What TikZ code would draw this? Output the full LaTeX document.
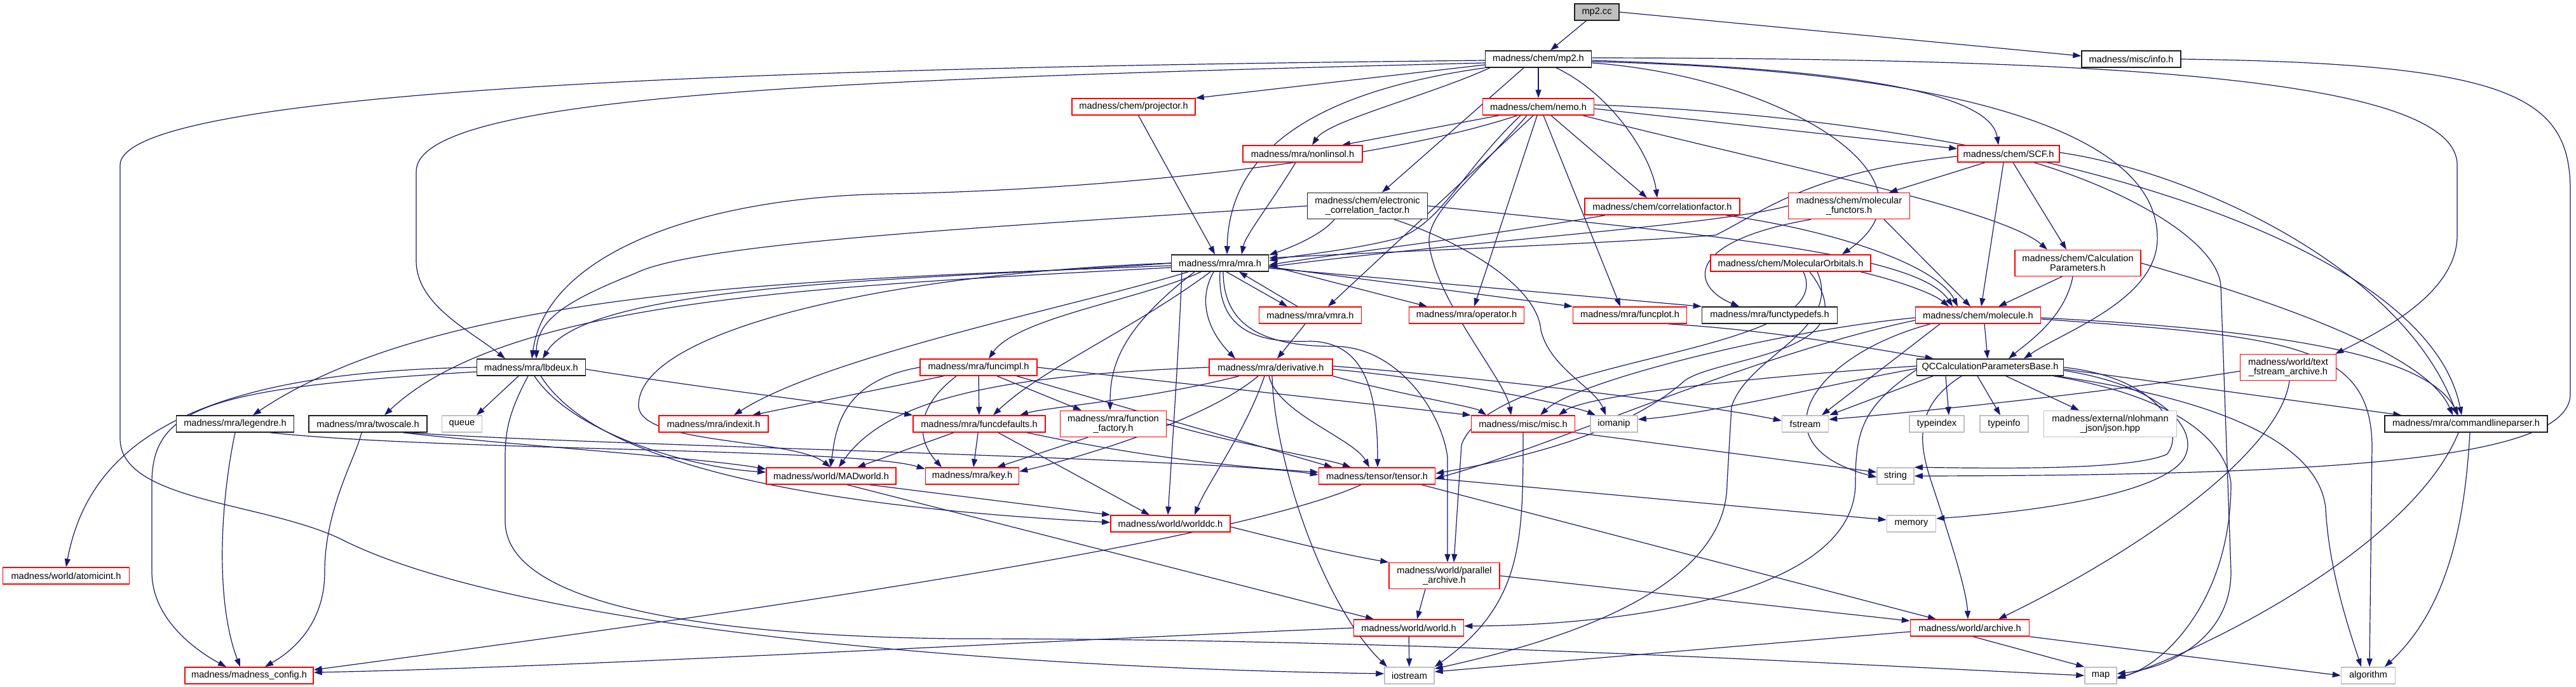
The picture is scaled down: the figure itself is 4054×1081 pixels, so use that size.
\documentclass[tikz,border=0pt]{standalone}
\usepackage{fontspec}
\setmainfont{Liberation Sans}
\usetikzlibrary{arrows.meta,backgrounds}
\definecolor{edgec}{HTML}{191970}
\definecolor{redb}{HTML}{FF0000}
\definecolor{grayb}{HTML}{BFBFBF}
\definecolor{blackb}{HTML}{202020}
\begin{document}
\begin{tikzpicture}[x=1pt,y=-1pt,
  nd/.style={draw, line width=1.5pt, fill=white, inner sep=0pt, align=center,
     font=\fontsize{14.6}{15}\selectfont, minimum height=26pt},
  rd/.style={nd, draw=redb},
  bk/.style={nd, draw=blackb},
  gy/.style={nd, draw=grayb},
  tw/.style={minimum height=41pt},
  ed/.style={draw=edgec, line width=1.2pt, -{Triangle[length=13pt,width=9pt]}}]
\useasboundingbox (0,0) rectangle (4054,1081);
% nodes
\node[bk,fill=grayb,minimum width=70pt] (mpcc) at (2513,19) {mp2.cc};
\node[bk,minimum width=167pt] (mph) at (2421,93) {madness/chem/mp2.h};
\node[bk,minimum width=156pt] (info) at (3354,93) {madness/misc/info.h};
\node[rd,minimum width=175pt] (nemo) at (2421,168) {madness/chem/nemo.h};
\node[rd,minimum width=194pt] (proj) at (1784,168) {madness/chem/projector.h};
\node[rd,minimum width=188pt] (nonlin) at (2050,242) {madness/mra/nonlinsol.h};
\node[rd,minimum width=160pt] (scf) at (3161,242) {madness/chem/SCF.h};
\node[bk,tw,minimum width=189pt] (ecf) at (2152,324) {madness/chem/electronic\\\_correlation\_factor.h};
\node[rd,minimum width=244pt] (corrf) at (2616,325) {madness/chem/correlationfactor.h};
\node[rd,tw,minimum width=191pt] (molfunc) at (2910,324) {madness/chem/molecular\\\_functors.h};
\node[bk,minimum width=153pt] (mra) at (1920,414) {madness/mra/mra.h};
\node[rd,minimum width=252pt] (molorb) at (2818,414) {madness/chem/MolecularOrbitals.h};
\node[rd,tw,minimum width=198pt] (calcp) at (3270,414) {madness/chem/Calculation\\Parameters.h};
\node[rd,minimum width=161pt] (vmra) at (2062,496) {madness/mra/vmra.h};
\node[rd,minimum width=181pt] (oper) at (2308,496) {madness/mra/operator.h};
\node[rd,minimum width=179pt] (fplot) at (2565,496) {madness/mra/funcplot.h};
\node[bk,minimum width=213pt] (ftdefs) at (2785,496) {madness/mra/functypedefs.h};
\node[rd,minimum width=197pt] (molec) at (3113,496) {madness/chem/molecule.h};
\node[bk,minimum width=171pt] (lbdeux) at (836,578) {madness/mra/lbdeux.h};
\node[rd,minimum width=184pt] (fimpl) at (1540,578) {madness/mra/funcimpl.h};
\node[rd,minimum width=194pt] (deriv) at (2000,578) {madness/mra/derivative.h};
\node[bk,minimum width=231pt] (qcc) at (3132,578) {QCCalculationParametersBase.h};
\node[rd,tw,minimum width=151pt] (textfs) at (3601,578) {madness/world/text\\\_fstream\_archive.h};
\node[bk,minimum width=185pt] (legendre) at (370,667) {madness/mra/legendre.h};
\node[bk,minimum width=186pt] (twoscale) at (579,667) {madness/mra/twoscale.h};
\node[gy,minimum width=63pt] (queue) at (727,667) {queue};
\node[rd,minimum width=172pt] (indexit) at (1123,667) {madness/mra/indexit.h};
\node[rd,minimum width=208pt] (fdefs) at (1541,667) {madness/mra/funcdefaults.h};
\node[rd,tw,minimum width=167pt] (ffact) at (1752,667) {madness/mra/function\\\_factory.h};
\node[rd,minimum width=163pt] (misc) at (2397,667) {madness/misc/misc.h};
\node[gy,minimum width=74pt] (iomanip) at (2540,667) {iomanip};
\node[gy,minimum width=73pt] (fstream) at (2841,667) {fstream};
\node[gy,minimum width=86pt] (typeindex) at (3048,667) {typeindex};
\node[gy,minimum width=76pt] (typeinfo) at (3154,667) {typeinfo};
\node[gy,tw,minimum width=209pt] (json) at (3321,667) {madness/external/nlohmann\\\_json/json.hpp};
\node[bk,minimum width=256pt] (cmdline) at (3881,667) {madness/mra/commandlineparser.h};
\node[rd,minimum width=204pt] (madworld) at (1308,749) {madness/world/MADworld.h};
\node[rd,minimum width=147pt] (key) at (1530,749) {madness/mra/key.h};
\node[rd,minimum width=183pt] (tensor) at (2167,749) {madness/tensor/tensor.h};
\node[gy,minimum width=58pt] (string) at (2983,749) {string};
\node[rd,minimum width=188pt] (worlddc) at (1842,824) {madness/world/worlddc.h};
\node[gy,minimum width=77pt] (memory) at (3008,824) {memory};
\node[rd,minimum width=199pt] (atomicint) at (104,906) {madness/world/atomicint.h};
\node[rd,tw,minimum width=174pt] (parallel) at (2273,906) {madness/world/parallel\\\_archive.h};
\node[rd,minimum width=173pt] (world) at (2217,988) {madness/world/world.h};
\node[rd,minimum width=187pt] (archive) at (3100,988) {madness/world/archive.h};
\node[rd,minimum width=202pt] (config) at (392,1063) {madness/madness\_config.h};
\node[gy,minimum width=78pt] (iostream) at (2218,1063) {iostream};
\node[gy,minimum width=50pt] (map) at (3306,1063) {map};
\node[gy,minimum width=85pt] (algorithm) at (3727,1063) {algorithm};
% edges
\begin{scope}[on background layer]
\draw[ed] (mpcc) -- ([xshift=19pt]mph.north);
\draw[ed] (mpcc.east) -- ([yshift=5pt]info.west);
\draw[ed] (info.east) .. controls (3950,100) and (4045,150) .. (4045,300) -- (4045,620) .. controls (4045,720) and (3700,748) .. (string.east);
% mp2.h
\draw[ed] ([yshift=-2pt]mph.west) .. controls (1400,105) and (189,130) .. (189,260) -- (189,690) .. controls (189,790) and (420,790) .. (540,850) .. controls (800,980) and (1500,1050) .. ([yshift=3pt]iostream.west);
\draw[ed] ([yshift=-6pt]mph.west) .. controls (1300,125) and (655,150) .. (655,270) -- (655,410) .. controls (655,480) and (740,520) .. ([xshift=-41pt]lbdeux.north);
\draw[ed] ([yshift=-9pt]mph.west) -- (proj.north east);
\draw[ed] ([xshift=8pt]mph.south west) .. controls (2250,150) and (2090,190) .. ([xshift=15pt]nonlin.north);
\draw[ed] (mph.south west) .. controls (2100,140) and (1935,220) .. ([xshift=11pt]mra.north);
\draw[ed] ([xshift=-23pt]mph.south) -- ([xshift=23pt]ecf.north);
\draw[ed] (mph) -- (nemo);
\draw[ed] ([xshift=28pt]mph.south) .. controls (2540,150) and (2600,250) .. ([xshift=-8pt]corrf.north);
\draw[ed] ([yshift=-2pt]mph.east) .. controls (2800,105) and (3130,130) .. ([xshift=-16pt]scf.north);
\draw[ed] ([yshift=-6pt]mph.east) .. controls (2800,120) and (3070,280) .. ([xshift=81pt]molorb.north);
\draw[ed] ([yshift=-4pt]mph.east) .. controls (3050,110) and (3390,200) .. (3395,370) .. controls (3400,470) and (3250,520) .. ([xshift=53pt]qcc.north);
\draw[ed] ([yshift=2pt]mph.east) .. controls (3300,92) and (3867,120) .. (3867,260) -- (3867,370) .. controls (3867,460) and (3750,520) .. ([xshift=-2pt]textfs.north east);
% nemo
\draw[ed] ([xshift=-62pt]nemo.south) -- ([xshift=62pt]nonlin.north);
\draw[ed] ([xshift=-33pt]nemo.south) .. controls (2150,260) and (1700,300) .. (1400,305) .. controls (1100,310) and (860,400) .. ([xshift=1pt]lbdeux.north);
\draw[ed] ([xshift=-28pt]nemo.south) .. controls (2300,270) and (2270,350) .. (2200,375) .. controls (2120,395) and (2050,400) .. ([yshift=4pt]mra.east);
\draw[ed] ([xshift=-8pt]nemo.south) -- ([xshift=28pt]vmra.north);
\draw[ed] ([xshift=-18pt]nemo.south) .. controls (2300,300) and (2240,340) .. (2250,390) .. controls (2265,480) and (2370,600) .. ([xshift=-19pt]misc.north);
\draw[ed] ([xshift=-2pt]nemo.south) -- ([xshift=12pt]oper.north);
\draw[ed] ([xshift=8pt]nemo.south) -- ([xshift=-15pt]fplot.north);
\draw[ed] ([xshift=20pt]nemo.south) -- ([xshift=-24pt]corrf.north);
\draw[ed] ([yshift=-3pt]nemo.east) -- ([yshift=8pt]scf.west);
\draw[ed] ([xshift=70pt]nemo.south) .. controls (2800,260) and (3150,330) .. ([xshift=-48pt]calcp.north);
\draw[ed] ([yshift=3pt]nemo.east) .. controls (3200,190) and (3820,380) .. ([xshift=-7pt]cmdline.north);
% projector / nonlinsol
\draw[ed] (proj) -- ([xshift=-8pt]mra.north);
\draw[ed] ([xshift=-11pt]nonlin.south) .. controls (2000,320) and (1960,370) .. ([xshift=34pt]mra.north);
% electronic_correlation_factor
\draw[ed] (ecf.west) .. controls (1600,355) and (1100,380) .. (1000,430) .. controls (900,470) and (845,500) .. ([xshift=8pt]lbdeux.north);
\draw[ed] ([xshift=-52pt]ecf.south) .. controls (2080,370) and (2030,390) .. ([yshift=-1pt]mra.north east);
\draw[ed] ([xshift=42pt]ecf.south) .. controls (2300,380) and (2420,450) .. (2425,520) .. controls (2440,580) and (2510,610) .. ([xshift=-13pt]iomanip.north);
\draw[ed] (ecf.east) .. controls (2700,370) and (3020,400) .. ([xshift=-40pt]molec.north);
% correlationfactor
\draw[ed] ([xshift=-90pt]corrf.south) .. controls (2350,370) and (2100,400) .. ([yshift=-3pt]mra.east);
\draw[ed] ([xshift=100pt]corrf.south) .. controls (2900,365) and (3050,420) .. ([xshift=-32pt]molec.north);
% molecular_functors
\draw[ed] (molfunc.west) .. controls (2700,355) and (2300,380) .. ([yshift=-6pt]mra.east);
\draw[ed] ([xshift=-60pt]molfunc.south) .. controls (2650,380) and (2660,450) .. ([xshift=-48pt]ftdefs.north);
\draw[ed] ([xshift=55pt]molfunc.south) -- ([xshift=-12pt]molec.north);
% SCF
\draw[ed] ([xshift=-37pt]scf.south) -- ([xshift=63pt]molfunc.north);
\draw[ed] ([yshift=-4pt]scf.west) .. controls (2850,270) and (2780,330) .. (2700,370) .. controls (2500,385) and (2200,395) .. ([yshift=8pt]mra.east);
\draw[ed] ([xshift=-8pt]scf.south) -- ([xshift=5pt]molec.north);
\draw[ed] ([xshift=7pt]scf.south) -- ([xshift=-18pt]calcp.north);
\draw[ed] ([xshift=40pt]scf.south) .. controls (3350,300) and (3490,380) .. (3495,450) -- (3511,900) .. controls (3511,1000) and (3420,1050) .. ([yshift=3pt]map.east);
\draw[ed] ([yshift=2pt]scf.east) .. controls (3450,270) and (3780,420) .. ([xshift=-14pt]cmdline.north);
% MolecularOrbitals
\draw[ed] ([xshift=110pt]molorb.south) .. controls (2980,440) and (3040,460) .. ([xshift=-46pt]molec.north);
\draw[ed] ([xshift=42pt]molorb.south) .. controls (2900,520) and (2750,560) .. (2725,640) -- (2718,760) .. controls (2718,930) and (2450,1010) .. ([yshift=-3pt]iostream.north east);
\draw[ed] ([xshift=30pt]molorb.south) .. controls (2950,560) and (2700,560) .. (2650,600) .. controls (2560,680) and (2400,720) .. ([yshift=4pt]tensor.east);
\draw[ed] ([xshift=20pt]molorb.south) .. controls (2900,560) and (2350,560) .. (2300,700) -- ([xshift=15pt]parallel.north);
% mra.h
\draw[ed] (mra.west) .. controls (1500,440) and (930,440) .. ([xshift=18pt]lbdeux.north);
\draw[ed] ([yshift=-4pt]mra.west) .. controls (1300,440) and (700,450) .. ([xshift=28pt]legendre.north);
\draw[ed] ([yshift=-7pt]mra.west) .. controls (1300,450) and (800,470) .. ([xshift=26pt]twoscale.north);
\draw[ed] ([xshift=-50pt]mra.south) .. controls (1700,480) and (1300,560) .. ([xshift=32pt]indexit.north);
\draw[ed] ([xshift=-30pt]mra.south) .. controls (1800,470) and (1600,500) .. ([xshift=16pt]fimpl.north);
\draw[ed] ([xshift=-15pt]mra.south) .. controls (1780,520) and (1640,580) .. ([xshift=22pt]fdefs.north);
\draw[ed] ([xshift=-40pt]mra.south) .. controls (1760,520) and (1747,580) .. ([xshift=-5pt]ffact.north);
\draw[ed] ([xshift=-60pt]mra.south) .. controls (1855,550) and (1845,700) .. ([xshift=-4pt]worlddc.north);
\draw[ed] ([xshift=-10pt]mra.south) .. controls (1880,480) and (1910,530) .. ([xshift=-56pt]deriv.north);
\draw[ed] ([xshift=10pt]mra.south) -- ([xshift=-36pt]vmra.north);
\draw[ed] ([xshift=-20pt]vmra.north) -- ([xshift=30pt]mra.south);
\draw[ed] ([yshift=-4pt]mra.east) -- ([xshift=-62pt]oper.north);
\draw[ed] ([yshift=-6pt]mra.east) -- (fplot.north west);
\draw[ed] ([yshift=-8pt]mra.east) -- (ftdefs.north west);
\draw[ed] (mra.south) .. controls (1915,520) and (1980,540) .. (2060,537) .. controls (2150,537) and (2168,620) .. ([xshift=1pt]tensor.north);
\draw[ed] ([xshift=5pt]mra.south) .. controls (1925,520) and (2000,545) .. (2100,545) .. controls (2200,545) and (2270,650) .. (2278,720) -- ([xshift=5pt]parallel.north);
\draw[ed] (mra.west) .. controls (1400,430) and (1000,520) .. (1005,640) .. controls (1010,700) and (1250,690) .. ([xshift=-1pt]madworld.north);
% funcimpl
\draw[ed] (fimpl.west) .. controls (1320,600) and (1315,680) .. ([xshift=-1pt]madworld.north);
\draw[ed] ([xshift=-55pt]fimpl.south) -- ([xshift=61pt]indexit.north);
\draw[ed] ([xshift=-35pt]fimpl.south) .. controls (1430,650) and (1450,700) .. ([xshift=-48pt]key.north);
\draw[ed] (fimpl) -- (fdefs);
\draw[ed] ([xshift=29pt]fimpl.south) -- ([xshift=-50pt]ffact.north);
\draw[ed] ([xshift=60pt]fimpl.south) -- ([xshift=-70pt]tensor.north);
\draw[ed] (fimpl.east) -- (misc.north west);
% funcdefaults
\draw[ed] ([xshift=-40pt]fdefs.south) -- ([xshift=41pt]madworld.north);
\draw[ed] (fdefs) -- ([xshift=2pt]key.north);
\draw[ed] ([xshift=30pt]fdefs.south) -- ([xshift=-33pt]worlddc.north);
\draw[ed] ([xshift=75pt]fdefs.south) .. controls (1800,720) and (1950,735) .. ([yshift=6pt]tensor.west);
% function_factory
\draw[ed] ([xshift=-40pt]ffact.south) -- ([xshift=39pt]key.north);
\draw[ed] (ffact.east) .. controls (1950,700) and (2080,720) .. ([xshift=-41pt]tensor.north);
% derivative
\draw[ed] ([xshift=-50pt]deriv.south) .. controls (1800,630) and (1650,640) .. ([xshift=64pt]fdefs.north);
\draw[ed] ([xshift=-20pt]deriv.south) .. controls (1900,660) and (1700,720) .. ([yshift=7pt]key.east);
\draw[ed] ([xshift=-10pt]deriv.south) .. controls (1960,680) and (1900,760) .. ([xshift=38pt]worlddc.north);
\draw[ed] ([xshift=-3pt]deriv.south) .. controls (2010,650) and (2130,690) .. ([xshift=-12pt]tensor.north);
\draw[ed] (deriv.south east) .. controls (2200,620) and (2320,640) .. ([xshift=-58pt]misc.north);
\draw[ed] ([yshift=-3pt]deriv.east) .. controls (2300,600) and (2480,640) .. ([xshift=-29pt]iomanip.north);
\draw[ed] ([yshift=2pt]deriv.east) .. controls (2400,600) and (2700,640) .. ([yshift=5pt]fstream.west);
\draw[ed] ([xshift=2pt]deriv.south) .. controls (2005,720) and (2080,950) .. ([xshift=-35pt]iostream.north);
\draw[ed] (deriv.west) .. controls (1600,590) and (1400,620) .. ([xshift=12pt]madworld.north);
% lbdeux
\draw[ed] (lbdeux.west) .. controls (300,585) and (140,700) .. (atomicint.north);
\draw[ed] ([yshift=-7pt]lbdeux.west) .. controls (330,610) and (239,640) .. (239,760) -- (239,900) .. controls (239,980) and (320,1030) .. ([xshift=-36pt]config.north);
\draw[ed] ([xshift=-20pt]lbdeux.south) -- ([xshift=23pt]queue.north);
\draw[ed] ([yshift=-3pt]lbdeux.east) .. controls (1100,610) and (1350,640) .. (fdefs.north west);
\draw[ed] ([xshift=-5pt]lbdeux.south) .. controls (800,650) and (795,680) .. (795,720) -- (795,820) .. controls (795,950) and (1100,1000) .. (1500,1005) .. controls (2200,1005) and (2800,1040) .. (map.west);
\draw[ed] ([xshift=5pt]lbdeux.south) .. controls (900,680) and (1080,735) .. ([yshift=6pt]madworld.west);
\draw[ed] ([xshift=15pt]lbdeux.south) .. controls (920,700) and (1150,790) .. ([yshift=2pt]worlddc.west);
% legendre / twoscale
\draw[ed] (legendre.south) .. controls (345,800) and (340,950) .. ([xshift=-14pt]config.north);
\draw[ed] ([xshift=55pt]legendre.south) .. controls (700,710) and (1350,705) .. ([yshift=11pt]key.west);
\draw[ed] ([xshift=-10pt]twoscale.south) .. controls (560,720) and (511,800) .. (511,900) .. controls (511,990) and (450,1030) .. ([xshift=25pt]config.north);
\draw[ed] ([xshift=55pt]twoscale.south) .. controls (800,700) and (1100,720) .. ([yshift=11pt]madworld.west);
\draw[ed] ([xshift=65pt]twoscale.south) .. controls (900,700) and (1900,720) .. ([yshift=2pt]tensor.west);
% lower nodes
\draw[ed] ([xshift=60pt]madworld.south) -- (worlddc.north west);
\draw[ed] ([xshift=25pt]madworld.south) -- ([xshift=-55pt]world.north);
\draw[ed] ([yshift=-5pt]worlddc.east) .. controls (2000,845) and (2100,870) .. (parallel.north west);
\draw[ed] ([xshift=-25pt]tensor.south) .. controls (1950,850) and (1200,960) .. ([yshift=9pt]config.east);
\draw[ed] ([yshift=-4pt]tensor.east) -- ([yshift=6pt]memory.west);
\draw[ed] ([xshift=70pt]tensor.south) -- ([xshift=-53pt]archive.north);
\draw[ed] ([xshift=-30pt]parallel.south) -- ([xshift=13pt]world.north);
\draw[ed] (parallel.east) -- ([yshift=11pt]archive.west);
\draw[ed] (world.west) .. controls (1600,1010) and (900,1050) .. ([yshift=5pt]config.east);
\draw[ed] (world) -- (iostream);
\draw[ed] ([yshift=-6pt]archive.west) -- ([yshift=6pt]iostream.east);
\draw[ed] ([xshift=5pt]archive.south) -- (map.north west);
\draw[ed] (archive.south east) -- (algorithm.west);
\draw[ed] (misc.south east) -- ([yshift=6pt]string.west);
\draw[ed] (misc.south) .. controls (2397,850) and (2397,950) .. (iostream.north east);
% molecule
\draw[ed] ([xshift=10pt]molec.south) -- ([xshift=-4pt]qcc.north);
\draw[ed] ([yshift=-4pt]molec.west) .. controls (2800,520) and (2480,600) .. ([xshift=27pt]misc.north);
\draw[ed] ([xshift=-60pt]molec.south) -- ([xshift=26pt]fstream.north);
\draw[ed] ([yshift=-8pt]molec.west) .. controls (2750,560) and (2450,700) .. ([yshift=-4pt]tensor.east);
\draw[ed] ([yshift=-4pt]molec.east) .. controls (3600,520) and (3820,560) .. ([xshift=-12pt]cmdline.north);
\draw[ed] ([yshift=-6pt]molec.east) .. controls (3600,530) and (3730,540) .. (3733,700) -- ([xshift=2pt]algorithm.north);
\draw[ed] ([xshift=-75pt]molec.south) .. controls (2850,560) and (2760,700) .. ([yshift=-2pt]string.west);
% QCCalculationParametersBase
\draw[ed] ([xshift=-70pt]qcc.south) -- ([xshift=19pt]typeindex.north);
\draw[ed] ([xshift=-20pt]qcc.south) -- ([xshift=-6pt]typeinfo.north);
\draw[ed] ([xshift=25pt]qcc.south) -- ([xshift=-49pt]json.north);
\draw[ed] ([yshift=-3pt]qcc.east) -- ([xshift=27pt]cmdline.north west);
\draw[ed] ([yshift=-2pt]qcc.west) .. controls (2900,600) and (2700,650) .. ([yshift=7pt]iomanip.east);
\draw[ed] ([yshift=2pt]qcc.west) .. controls (2800,590) and (2500,620) .. ([xshift=56pt]misc.north);
\draw[ed] ([xshift=-90pt]qcc.south) -- ([xshift=38pt]fstream.north);
\draw[ed] (qcc.east) .. controls (3400,595) and (3440,680) .. (3410,715) .. controls (3350,740) and (3150,737) .. (string.north east);
\draw[ed] ([yshift=-5pt]qcc.east) .. controls (3420,610) and (3470,690) .. (3430,730) .. controls (3380,780) and (3200,805) .. ([yshift=8pt]memory.east);
\draw[ed] ([xshift=100pt]qcc.south) .. controls (3400,620) and (3500,680) .. (3511,760) .. controls (3511,950) and (3400,1050) .. ([yshift=-3pt]map.east);
\draw[ed] ([xshift=105pt]qcc.south) .. controls (3500,630) and (3650,700) .. (3660,800) .. controls (3665,900) and (3700,1000) .. ([xshift=-11pt]algorithm.north);
\draw[ed] ([xshift=-45pt]qcc.south) .. controls (3010,640) and (3020,700) .. (3040,760) .. controls (3070,850) and (3095,930) .. ([xshift=-3pt]archive.north);
\draw[ed] ([yshift=-4pt]qcc.west) .. controls (2930,640) and (2920,680) .. (2920,760) .. controls (2920,950) and (2500,985) .. ([yshift=3pt]world.east);
% commandlineparser
\draw[ed] ([xshift=-12pt]cmdline.south) .. controls (3800,850) and (3500,1010) .. ([yshift=-5pt]map.east);
\draw[ed] ([xshift=6pt]cmdline.south) .. controls (3880,800) and (3860,950) .. ([xshift=26pt]algorithm.north);
% CalculationParameters
\draw[ed] ([xshift=-25pt]calcp.south) -- ([xshift=32pt]molec.north);
\draw[ed] ([xshift=-8pt]calcp.south) .. controls (3250,500) and (3190,540) .. ([xshift=29pt]qcc.north);
\draw[ed] (calcp.east) .. controls (3600,480) and (3820,560) .. ([xshift=-21pt]cmdline.north);
% text_fstream_archive
\draw[ed] ([yshift=-6pt]textfs.west) .. controls (3300,620) and (3000,650) .. ([yshift=7pt]fstream.east);
\draw[ed] ([xshift=2pt]textfs.south) .. controls (3590,700) and (3400,850) .. ([xshift=45pt]archive.north);
% vmra, funcplot
\draw[ed] ([xshift=-8pt]vmra.south) -- ([xshift=10pt]deriv.north);
\draw[ed] ([xshift=60pt]fplot.south) .. controls (2800,520) and (2950,550) .. ([xshift=27pt]qcc.north west);
\end{scope}
\end{tikzpicture}
\end{document}
